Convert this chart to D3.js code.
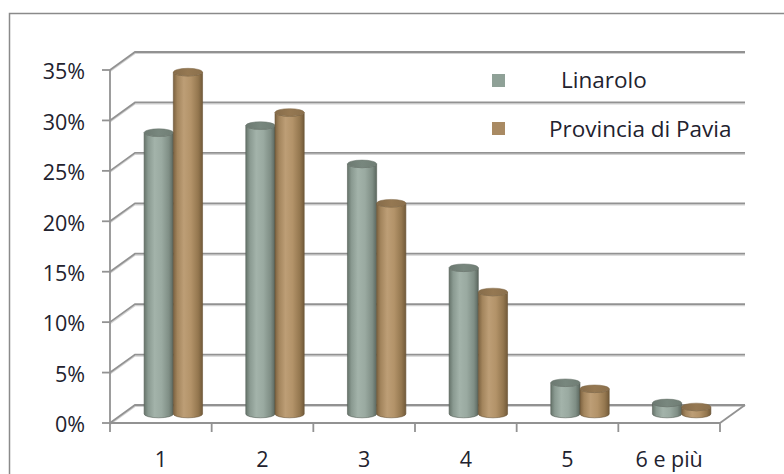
<!DOCTYPE html>
<html>
<head>
<meta charset="utf-8">
<script src="https://cdn.jsdelivr.net/npm/d3@7"></script>
<style>
  html, body { margin: 0; padding: 0; background: #fff; }
  svg { display: block; }
  text { font-family: "Open Sans", "DejaVu Sans", sans-serif; fill: #22222e; }
</style>
</head>
<body>
<svg id="chart" width="784" height="474"></svg>
<script>
// Household size distribution (number of members per household)
const categories = ["1", "2", "3", "4", "5", "6 e più"];
const seriesNames = ["Linarolo", "Provincia di Pavia"];
const linarolo = [0.279, 0.286, 0.248, 0.145, 0.031, 0.011];
const provincia = [0.339, 0.299, 0.209, 0.121, 0.025, 0.007];
const yTicks = [0, 0.05, 0.10, 0.15, 0.20, 0.25, 0.30, 0.35];

const svg = d3.select("#chart");

// Oblique 3D projection: depth pushes things right and up
const depth = { dx: 25, dy: -18 };
const mid = { dx: depth.dx / 2, dy: depth.dy / 2 };

const x0 = d3.scaleBand().domain(categories).range([110, 720]).paddingInner(0).paddingOuter(0);
const x1 = d3.scaleBand().domain(seriesNames).range([0, x0.bandwidth()]).paddingInner(0).paddingOuter(0.74);
const y = d3.scaleLinear().domain([0, 0.35]).range([423, 70]);

const colors = {
  "Linarolo": { swatch: "#8fa197", top: "#78877e", stops: ["#66746b", "#8a9a91", "#a3b3aa", "#9aaaa1", "#7f8e85", "#5b675f"] },
  "Provincia di Pavia": { swatch: "#a98a63", top: "#957852", stops: ["#7c6240", "#a3855d", "#bd9e76", "#b39369", "#94774f", "#725a39"] }
};

const defs = svg.append("defs");
seriesNames.forEach((s, i) => {
  const g = defs.append("linearGradient").attr("id", "cyl" + i)
    .attr("x1", "0%").attr("x2", "100%").attr("y1", "0%").attr("y2", "0%");
  const offs = [0, 0.14, 0.36, 0.6, 0.85, 1];
  colors[s].stops.forEach((c, k) => g.append("stop").attr("offset", offs[k]).attr("stop-color", c));
  const t = defs.append("linearGradient").attr("id", "top" + i)
    .attr("x1", "0%").attr("x2", "100%").attr("y1", "0%").attr("y2", "0%");
  t.append("stop").attr("offset", 0).attr("stop-color", d3.color(colors[s].top).darker(0.3));
  t.append("stop").attr("offset", 0.5).attr("stop-color", colors[s].top);
  t.append("stop").attr("offset", 1).attr("stop-color", d3.color(colors[s].top).darker(0.2));
});

// Outer frame (runs off the right and bottom edges)
svg.append("rect").attr("x", 9.5).attr("y", 13.5).attr("width", 800).attr("height", 500)
  .attr("fill", "none").attr("stroke", "#8a8a8a").attr("stroke-width", 1.5);

const xL = x0.range()[0], xR = x0.range()[1];

// Back-wall gridlines with their diagonal returns to the front axis
const grid = svg.append("g");
yTicks.forEach(v => {
  const yf = y(v), yb = y(v) + depth.dy;
  const pts = [[xL, yf], [xL + depth.dx, yb], [xR + depth.dx, yb]];
  grid.append("polyline").attr("points", pts.map(p => p.join(",")).join(" "))
    .attr("fill", "none").attr("stroke", "#d2d2d2").attr("stroke-width", 1.2)
    .attr("transform", "translate(0,1.5)");
  grid.append("polyline").attr("points", pts.map(p => p.join(",")).join(" "))
    .attr("fill", "none").attr("stroke", "#929292").attr("stroke-width", 1.8);
});

// Right side edge of the floor
grid.append("line").attr("x1", xR).attr("y1", y(0)).attr("x2", xR + depth.dx).attr("y2", y(0) + depth.dy)
  .attr("stroke", "#929292").attr("stroke-width", 1.8);

// Vertical axis
const yAxis = svg.append("g");
yAxis.append("line").attr("x1", xL).attr("x2", xL).attr("y1", y(0.35)).attr("y2", y(0))
  .attr("stroke", "#929292").attr("stroke-width", 1.8);
yTicks.forEach(v => {
  yAxis.append("line").attr("x1", xL - 8).attr("x2", xL).attr("y1", y(v)).attr("y2", y(v))
    .attr("stroke", "#929292").attr("stroke-width", 1.8);
  yAxis.append("text").attr("x", 85).attr("y", y(v) + 1.5).attr("dy", "0.36em")
    .attr("text-anchor", "end").attr("font-size", 21.5).text(d3.format(".0%")(v));
});

// Horizontal (category) axis along the front edge of the floor
const xAxis = svg.append("g");
xAxis.append("line").attr("x1", xL).attr("x2", xR).attr("y1", y(0)).attr("y2", y(0))
  .attr("stroke", "#929292").attr("stroke-width", 1.8);
const bounds = categories.map(c => x0(c)).concat([xR]);
bounds.forEach(bx => {
  xAxis.append("line").attr("x1", bx).attr("x2", bx).attr("y1", y(0)).attr("y2", y(0) + 9)
    .attr("stroke", "#929292").attr("stroke-width", 1.8);
});
categories.forEach(c => {
  xAxis.append("text").attr("x", x0(c) + x0.bandwidth() / 2).attr("y", 459).attr("dy", "0.36em")
    .attr("text-anchor", "middle").attr("font-size", 21.5).text(c);
});

// Cylinders, placed halfway into the depth of the floor
const data = categories.map((c, i) => ({ cat: c, values: [linarolo[i], provincia[i]] }));
const w = x1.bandwidth();
const ry = 3.8;
const bars = svg.append("g");
data.forEach(d => {
  d.values.forEach((v, si) => {
    const s = seriesNames[si];
    const left = x0(d.cat) + x1(s) + mid.dx;
    const cx = left + w / 2;
    const yb = y(0) + mid.dy;
    const yt = y(v) + mid.dy;
    const rx = w / 2;
    const path = `M${left},${yt} L${left},${yb} A${rx},${ry} 0 0 0 ${left + w},${yb} L${left + w},${yt} A${rx},${ry} 0 0 1 ${left},${yt} Z`;
    bars.append("path").attr("d", path).attr("fill", `url(#cyl${si})`)
      .attr("stroke", d3.color(colors[s].stops[5]).darker(0.2)).attr("stroke-width", 0.6);
    bars.append("ellipse").attr("cx", cx).attr("cy", yt).attr("rx", rx).attr("ry", ry)
      .attr("fill", `url(#top${si})`).attr("stroke", d3.color(colors[s].top).darker(0.4)).attr("stroke-width", 0.5);
  });
});

// Legend
const legend = svg.append("g");
const legendItems = [
  { name: seriesNames[0], sy: 74, tx: 561, ty: 80 },
  { name: seriesNames[1], sy: 122, tx: 549, ty: 129 }
];
legendItems.forEach(it => {
  legend.append("rect").attr("x", 492).attr("y", it.sy).attr("width", 13).attr("height", 13)
    .attr("fill", colors[it.name].swatch);
  legend.append("text").attr("x", it.tx).attr("y", it.ty).attr("dy", "0.36em")
    .attr("font-size", 22.5).text(it.name);
});
</script>
</body>
</html>
